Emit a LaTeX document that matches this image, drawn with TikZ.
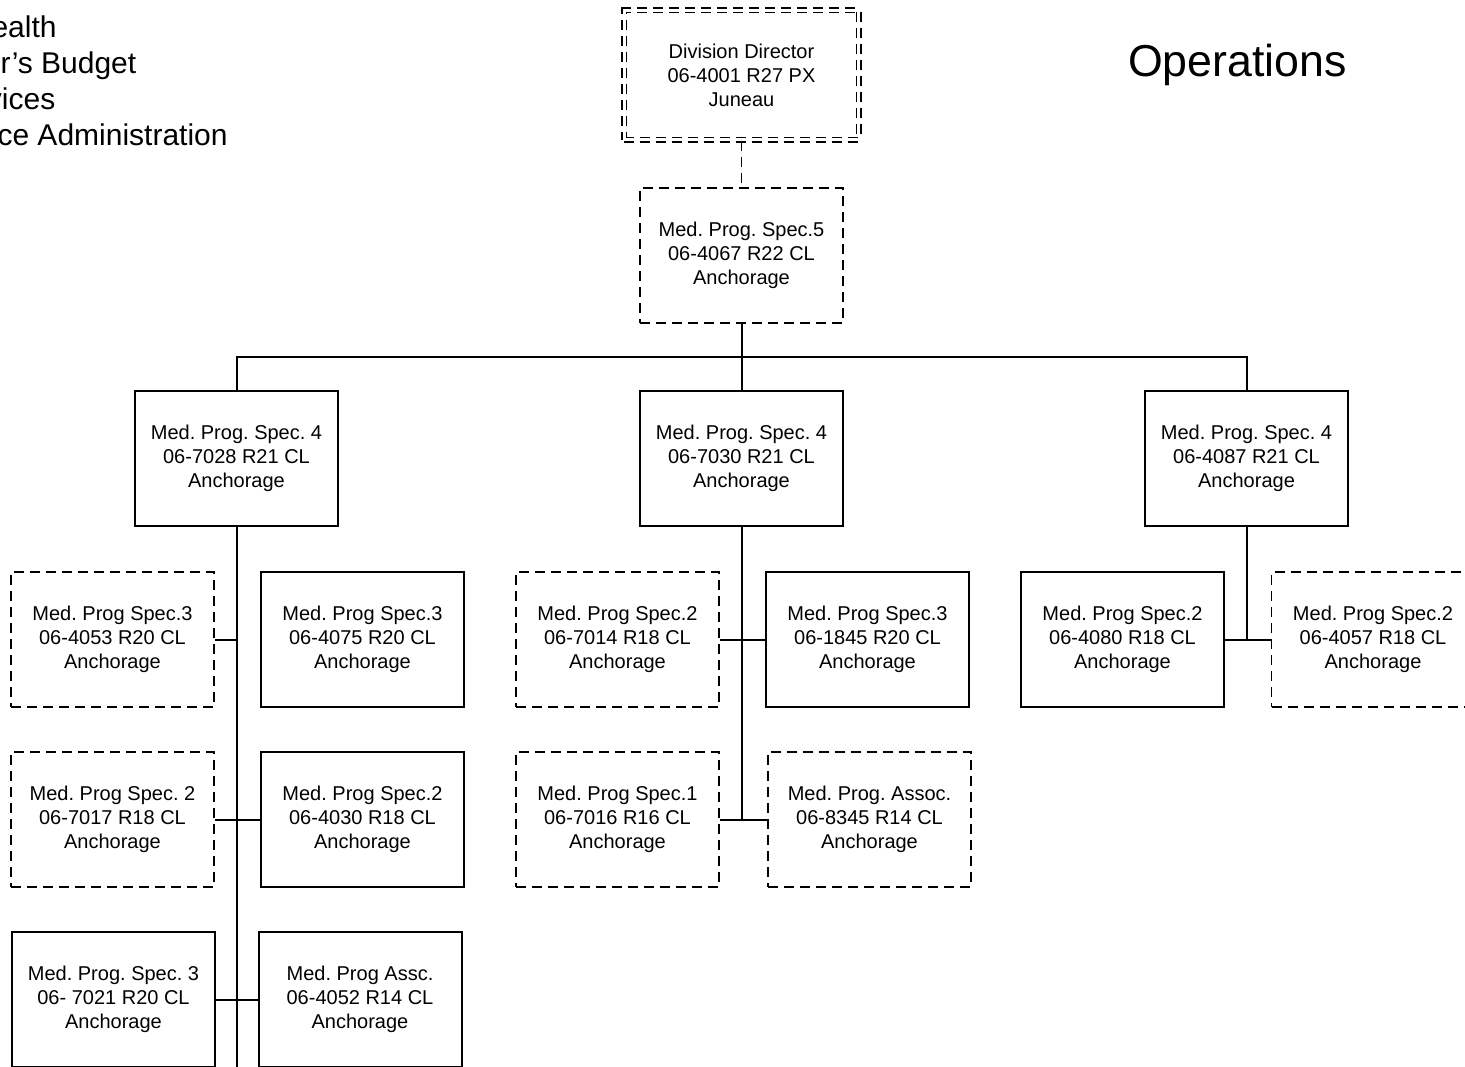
\documentclass[tikz,border=0pt]{standalone}
\usepackage{fontspec}
\setmainfont{Liberation Sans}
\begin{document}
\frenchspacing
\begin{tikzpicture}[x=0.5pt,y=-0.5pt,
  box/.style={draw=black, line width=1pt, minimum width=101.5pt, minimum height=67.5pt,
    inner sep=0pt, align=center, font=\fontsize{10pt}{12pt}\selectfont\frenchspacing},
  dbox/.style={box, line width=0.8pt, dash pattern=on 5pt off 3pt},
  link/.style={draw=black, line width=1pt},
  dlink/.style={draw=black, line width=0.8pt, dash pattern=on 5pt off 3pt},
  head/.style={anchor=base east, inner sep=0pt, font=\fontsize{15pt}{18pt}\selectfont},
]
\useasboundingbox (0,0) rectangle (1465,1066);
\clip (0,0) rectangle (1465,1066);

% header texts (cut off at the left edge, as in the reference)
\node[head] (h1) at (57,37.7) {ealth};
\node[head] (h2) at (136.7,73.3) {or’s Budget};
\node[head] (h3) at (55.7,109) {vices};
\node[head] (h4) at (228,145.3) {ce Administration};
\node[anchor=base, inner sep=0pt, font=\fontsize{22.35pt}{26pt}\selectfont] (title) at (1237.5,76.7) {Operations};

% top
\node[box, minimum width=117.25pt, minimum height=64.75pt, line width=0.75pt,
  dash pattern=on 5pt off 3pt, double=white, double distance=1.5pt] (dir) at (741.5,75)
  {Division Director\\06-4001 R27 PX\\Juneau};
\node[dbox] (sp5) at (741.5,255.5) {Med. Prog. Spec.5\\06-4067 R22 CL\\Anchorage};

% level 2
\node[box] (l4) at (236.5,458.5) {Med. Prog. Spec. 4\\06-7028 R21 CL\\Anchorage};
\node[box] (m4) at (741.5,458.5) {Med. Prog. Spec. 4\\06-7030 R21 CL\\Anchorage};
\node[box] (r4) at (1246.5,458.5) {Med. Prog. Spec. 4\\06-4087 R21 CL\\Anchorage};

% left group
\node[dbox] (a1) at (112.5,639.5) {Med. Prog Spec.3\\06-4053 R20 CL\\Anchorage};
\node[box]  (a2) at (362.5,639.5) {Med. Prog Spec.3\\06-4075 R20 CL\\Anchorage};
\node[dbox] (b1) at (112.5,819.5) {Med. Prog Spec. 2\\06-7017 R18 CL\\Anchorage};
\node[box]  (b2) at (362.5,819.5) {Med. Prog Spec.2\\06-4030 R18 CL\\Anchorage};
\node[box]  (c1) at (113.5,999.5) {Med. Prog. Spec. 3\\06- 7021 R20 CL\\Anchorage};
\node[box]  (c2) at (360,999.5) {Med. Prog Assc.\\06-4052 R14 CL\\Anchorage};

% middle group
\node[dbox] (ma1) at (617.5,639.5) {Med. Prog Spec.2\\06-7014 R18 CL\\Anchorage};
\node[box]  (ma2) at (867.5,639.5) {Med. Prog Spec.3\\06-1845 R20 CL\\Anchorage};
\node[dbox] (mb1) at (617.5,819.5) {Med. Prog Spec.1\\06-7016 R16 CL\\Anchorage};
\node[dbox] (mb2) at (869.5,819.5) {Med. Prog. Assoc.\\06-8345 R14 CL\\Anchorage};

% right group
\node[box]  (ra1) at (1122.5,639.5) {Med. Prog Spec.2\\06-4080 R18 CL\\Anchorage};
\node[dbox] (ra2) at (1373,639.5) {Med. Prog Spec.2\\06-4057 R18 CL\\Anchorage};

% connectors
\coordinate (bus) at (741.5,357);
\coordinate (lend) at (236.5,1070);
\draw[dlink] (dir.south) -- (sp5.north);
\draw[link] (sp5.south) -- (m4.north);
\draw[link] (l4.north) -- (l4.north |- bus) -- (r4.north |- bus) -- (r4.north);

\draw[link] (l4.south) -- (lend);
\draw[link] (a1.east) -- (a1.east -| l4.south);
\draw[link] (b1.east) -- (b2.west);
\draw[link] (c1.east) -- (c2.west);

\draw[link] (m4.south) -- (m4.south |- mb1.east);
\draw[link] (ma1.east) -- (ma2.west);
\draw[link] (mb1.east) -- (mb2.west);

\draw[link] (r4.south) -- (r4.south |- ra1.east);
\draw[link] (ra1.east) -- (ra2.west);
\end{tikzpicture}
\end{document}
